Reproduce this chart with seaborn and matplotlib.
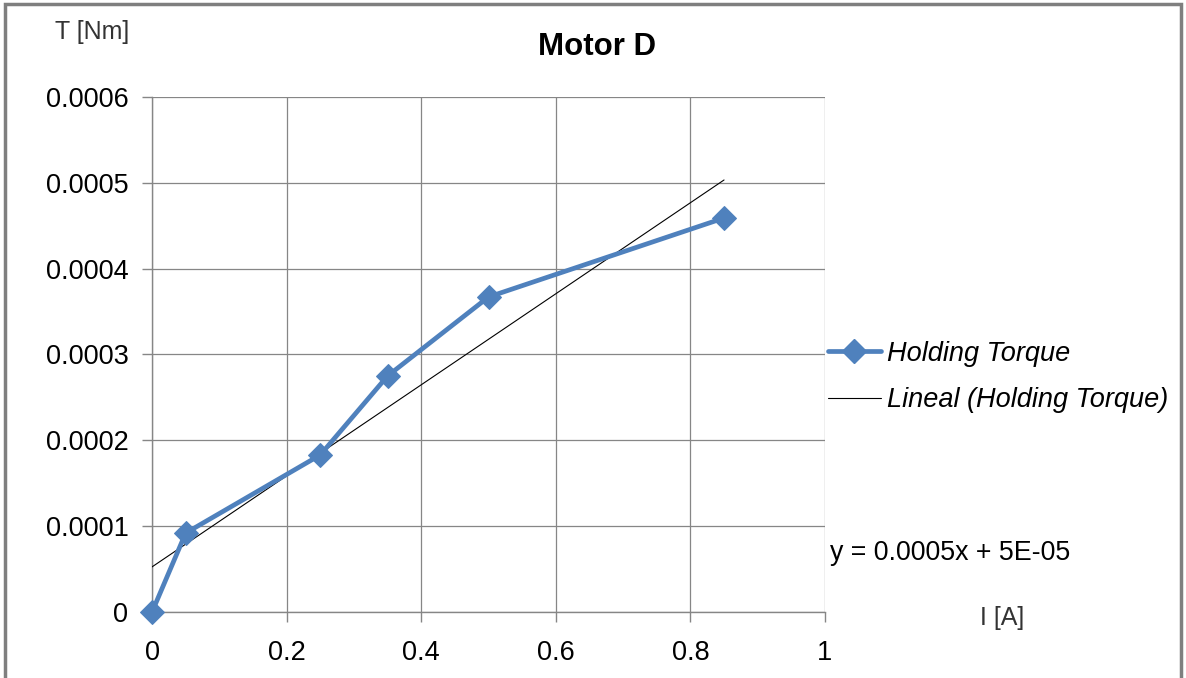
import numpy as np
import pandas as pd
import matplotlib
matplotlib.use('Agg')
import matplotlib.pyplot as plt
import seaborn as sns
from matplotlib.lines import Line2D
from matplotlib.patches import Rectangle

# --- data ---
current_a = [0, 0.05, 0.25, 0.35, 0.5, 0.85]
torque_nm = [0, 0.000092, 0.000183, 0.000275, 0.000367, 0.000459]
x_ticks = [0, 0.2, 0.4, 0.6, 0.8, 1]
y_ticks = [0, 0.0001, 0.0002, 0.0003, 0.0004, 0.0005, 0.0006]
y_tick_labels = ['0', '0.0001', '0.0002', '0.0003', '0.0004', '0.0005', '0.0006']
x_tick_labels = ['0', '0.2', '0.4', '0.6', '0.8', '1']

df = pd.DataFrame({'I': current_a, 'T': torque_nm})

sns.set_style('white')
plt.rcParams['font.family'] = ['Liberation Sans', 'DejaVu Sans']
plt.rcParams['text.color'] = 'black'

blue = '#4F81BD'
grid_c = '#868686'

fig = plt.figure(figsize=(11.86, 6.78), dpi=100)
ax = fig.add_axes([0.1282, 0.0973, 0.5674, 0.7597])

# trend line (linear fit over data range)
sns.regplot(data=df, x='I', y='T', ax=ax, scatter=False, ci=None,
            line_kws={'color': 'black', 'lw': 0.8, 'zorder': 3})
sns.lineplot(data=df, x='I', y='T', ax=ax, color=blue, lw=3.4, marker='D',
             markersize=12, markeredgecolor=blue, zorder=4, clip_on=False)

ax.set_xlim(0, 1)
ax.set_ylim(0, 0.0006)
ax.set_xticks(x_ticks)
ax.set_xticklabels(x_tick_labels)
ax.set_yticks(y_ticks)
ax.set_yticklabels(y_tick_labels)
ax.tick_params(axis='both', labelsize=19.5, length=7, width=1, color=grid_c,
               labelcolor='black', direction='out', bottom=True, left=True, pad=10)
ax.tick_params(axis='x', pad=13)
ax.grid(True, color=grid_c, lw=0.9)
ax.set_axisbelow(True)
ax.set_xlabel('')
ax.set_ylabel('')
for side in ['top', 'right']:
    ax.spines[side].set_visible(False)
for side in ['left', 'bottom']:
    ax.spines[side].set_color(grid_c)
    ax.spines[side].set_linewidth(1)

ax.set_title('Motor D', fontsize=22.5, fontweight='bold', pad=30, x=0.661, color='black')

fig.text(0.046, 0.953, 'T [Nm]', fontsize=18, color='#333333', ha='left', va='center')
fig.text(0.826, 0.088, 'I [A]', fontsize=18, color='#333333', ha='left', va='center')
fig.text(0.7, 0.184, 'y = 0.0005x + 5E-05', fontsize=19.3, ha='left', va='center')

handles = [
    Line2D([], [], color=blue, lw=3.4, marker='D', markersize=12, markeredgecolor=blue),
    Line2D([], [], color='black', lw=0.8),
]
fig.legend(handles, ['Holding Torque', 'Lineal (Holding Torque)'],
           loc='center left', bbox_to_anchor=(0.698, 0.444), frameon=False,
           prop={'size': 19.5, 'style': 'italic'}, handlelength=1.95,
           handletextpad=0.22, labelspacing=0.74, borderaxespad=0, borderpad=0,
           labelcolor='black')

fig.patches.append(Rectangle((0.004, -0.01), 0.992, 1.004, transform=fig.transFigure,
                             fill=False, edgecolor='#7f7f7f', lw=2.5))

fig.savefig('out.png', dpi=100)
